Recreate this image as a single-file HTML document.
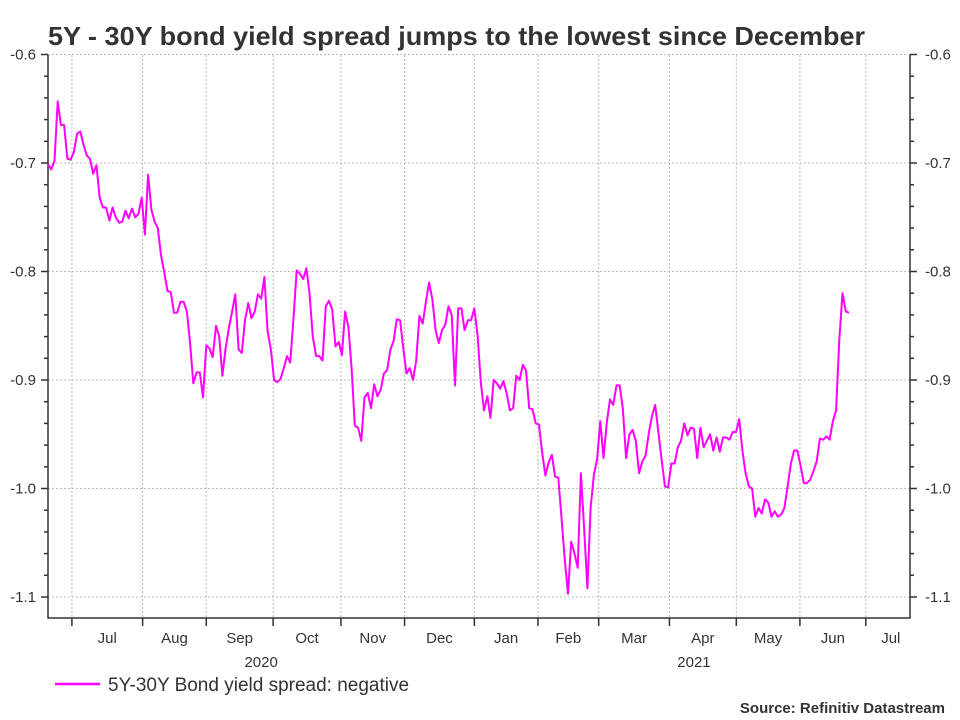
<!DOCTYPE html>
<html><head><meta charset="utf-8"><style>
body{margin:0;background:#fff;overflow:hidden;}
svg{display:block;}
svg text{font-family:"Liberation Sans",sans-serif;}
</style></head><body>
<svg id="chart" width="960" height="720" xmlns="http://www.w3.org/2000/svg">
<text x="48" y="45" font-size="26" font-weight="bold" fill="#333" textLength="817" lengthAdjust="spacingAndGlyphs">5Y - 30Y bond yield spread jumps to the lowest since December</text>
<g id="grid"></g>
<g id="axes"></g>
<g id="series"></g>
<g>
<line x1="55" y1="684" x2="100" y2="684" stroke="#ff00ff" stroke-width="2.5"/>
<text x="108" y="691" font-size="19" fill="#333">5Y-30Y Bond yield spread: negative</text>
</g>
<text x="945" y="713" font-size="15" font-weight="bold" fill="#333" text-anchor="end">Source: Refinitiv Datastream</text>
</svg>
<script>
const values=[-0.701,-0.706,-0.698,-0.643,-0.665,-0.665,-0.696,-0.697,-0.690,-0.673,-0.671,-0.683,-0.693,-0.696,-0.710,-0.702,-0.732,-0.741,-0.741,-0.753,-0.741,-0.750,-0.755,-0.754,-0.744,-0.751,-0.742,-0.750,-0.747,-0.732,-0.766,-0.711,-0.743,-0.754,-0.760,-0.785,-0.801,-0.818,-0.819,-0.838,-0.838,-0.828,-0.828,-0.837,-0.866,-0.903,-0.893,-0.893,-0.916,-0.868,-0.871,-0.879,-0.850,-0.860,-0.896,-0.871,-0.852,-0.837,-0.821,-0.872,-0.875,-0.845,-0.829,-0.843,-0.837,-0.821,-0.825,-0.805,-0.855,-0.872,-0.900,-0.902,-0.899,-0.889,-0.878,-0.884,-0.843,-0.799,-0.802,-0.807,-0.797,-0.821,-0.860,-0.878,-0.878,-0.882,-0.832,-0.827,-0.835,-0.869,-0.865,-0.877,-0.837,-0.851,-0.889,-0.942,-0.944,-0.956,-0.916,-0.912,-0.926,-0.904,-0.915,-0.909,-0.894,-0.891,-0.872,-0.864,-0.844,-0.845,-0.871,-0.894,-0.889,-0.900,-0.882,-0.841,-0.848,-0.828,-0.810,-0.826,-0.854,-0.866,-0.854,-0.849,-0.832,-0.840,-0.905,-0.834,-0.834,-0.854,-0.845,-0.845,-0.834,-0.859,-0.902,-0.928,-0.915,-0.935,-0.900,-0.903,-0.908,-0.901,-0.912,-0.928,-0.926,-0.896,-0.900,-0.886,-0.891,-0.926,-0.927,-0.940,-0.941,-0.967,-0.988,-0.976,-0.969,-0.989,-0.990,-1.027,-1.066,-1.097,-1.049,-1.060,-1.073,-0.986,-1.038,-1.092,-1.018,-0.988,-0.973,-0.938,-0.972,-0.939,-0.918,-0.923,-0.905,-0.905,-0.927,-0.972,-0.950,-0.946,-0.956,-0.986,-0.975,-0.970,-0.949,-0.933,-0.923,-0.948,-0.974,-0.998,-0.999,-0.977,-0.977,-0.962,-0.956,-0.940,-0.951,-0.944,-0.945,-0.972,-0.944,-0.962,-0.956,-0.950,-0.965,-0.953,-0.966,-0.953,-0.953,-0.955,-0.948,-0.948,-0.936,-0.965,-0.986,-0.998,-1.000,-1.026,-1.018,-1.023,-1.010,-1.013,-1.026,-1.021,-1.026,-1.024,-1.018,-0.998,-0.977,-0.965,-0.965,-0.979,-0.995,-0.995,-0.992,-0.984,-0.975,-0.954,-0.955,-0.952,-0.955,-0.938,-0.928,-0.863,-0.820,-0.837,-0.838];
const monthLabels=["Jul","Aug","Sep","Oct","Nov","Dec","Jan","Feb","Mar","Apr","May","Jun","Jul"];
const monthStartIdx=[7.4,29.3,49.0,69.7,90.7,110.4,132.0,151.7,170.5,192.4,213.1,232.8,253.2];
const yearLabels=["2020","2021"];
const yearCenterIdx=[66,200];
const yTicks=[-0.6,-0.7,-0.8,-0.9,-1.0,-1.1];
const L=48,R=910,T=55,B=618,XEND=849;
const REF=values.length-1;
const NS="http://www.w3.org/2000/svg";
function x(i){return L+(XEND-L)*i/REF;}
function y(v){return 54.5+(-0.6-v)*1085;}
function mk(tag,attrs,parent){const e=document.createElementNS(NS,tag);for(const k in attrs)e.setAttribute(k,attrs[k]);parent.appendChild(e);return e;}
const grid=document.getElementById('grid'),axes=document.getElementById('axes'),series=document.getElementById('series');
yTicks.forEach(v=>{
 const g=mk('line',{x1:L,x2:R,y1:y(v),y2:y(v),stroke:'#bbb','stroke-dasharray':'2,2'},grid);
 
 
 const lab=v.toFixed(1);
 const t1=mk('text',{x:36,y:y(v)+5,'font-size':15,fill:'#333','text-anchor':'end'},axes);t1.textContent=lab;
 
 
 const t2=mk('text',{x:925,y:y(v)+5,'font-size':15,fill:'#333'},axes);t2.textContent=lab;
 
 
});
for(let k=0;k<=28;k++){const v=-0.6-k*0.02;const yy=y(v);if(yy>B)break;const len=(k%5===0)?7:4;
 const a=mk('line',{x1:L-len,x2:L,y1:yy,y2:yy,stroke:'#333','stroke-width':1.5},axes);
 
 
 const b=mk('line',{x1:R,x2:R+len,y1:yy,y2:yy,stroke:'#333','stroke-width':1.5},axes);
 
 
}
monthStartIdx.forEach((m,i)=>{
 const xx=x(m);
 const g=mk('line',{x1:xx,x2:xx,y1:T,y2:B,stroke:'#bbb','stroke-dasharray':'2,2'},grid);
 
 
 const tk=mk('line',{x1:xx,x2:xx,y1:B,y2:B+8,stroke:'#333','stroke-width':1.5},axes);
 
 
 const nx=i+1<monthStartIdx.length?x(monthStartIdx[i+1]):xx+66;
 const t=mk('text',{x:(xx+nx)/2-(i===monthStartIdx.length-1?8:0),y:643,'font-size':15,fill:'#333','text-anchor':'middle'},axes);
 t.textContent=monthLabels[i];
 
 
});
yearLabels.forEach((s,i)=>{const t=mk('text',{x:x(yearCenterIdx[i]),y:667,'font-size':15,fill:'#333','text-anchor':'middle'},axes);t.textContent=s;
 
 });
const ax=mk('path',{d:`M${L},${T} V${B} H${R} V${T}`,fill:'none',stroke:'#333','stroke-width':1.5},axes);


const p=mk('polyline',{points:values.map((v,i)=>x(i).toFixed(1)+','+y(v).toFixed(1)).join(' '),fill:'none',stroke:'#ff00ff','stroke-width':2,'stroke-linejoin':'round'},series);


</script>
</body></html>
